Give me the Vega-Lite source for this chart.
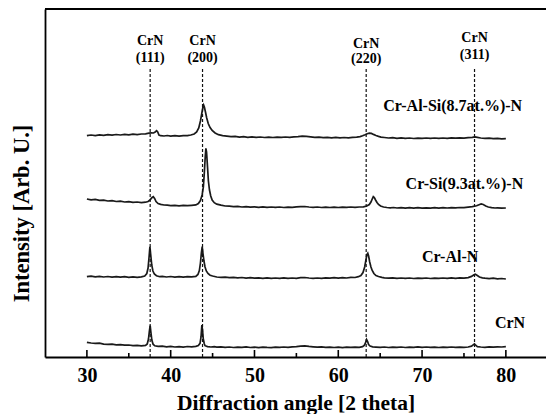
{
  "$schema": "https://vega.github.io/schema/vega-lite/v6.json",
  "width": 501,
  "height": 348,
  "autosize": {"type": "none"},
  "padding": {"left": 45, "top": 9, "right": 0, "bottom": 57},
  "background": "white",
  "config": {"view": {"stroke": null}},
  "layer": [
    {
      "data": {"values": [
        {"s":"D","x":30,"y":14.7},{"s":"D","x":30.5,"y":14.0},{"s":"D","x":31,"y":13.6},{"s":"D","x":31.5,"y":13.9},{"s":"D","x":32,"y":12.9},{"s":"D","x":32.5,"y":12.6},{"s":"D","x":33,"y":12.9},{"s":"D","x":33.5,"y":12.1},{"s":"D","x":34,"y":12.4},{"s":"D","x":34.5,"y":11.8},{"s":"D","x":35,"y":12.0},{"s":"D","x":35.5,"y":11.4},{"s":"D","x":36,"y":11.6},{"s":"D","x":36.5,"y":11.1},{"s":"D","x":37,"y":11.6},{"s":"D","x":37.2,"y":13},{"s":"D","x":37.35,"y":18},{"s":"D","x":37.45,"y":25.3},{"s":"D","x":37.55,"y":31.3},{"s":"D","x":37.65,"y":24},{"s":"D","x":37.75,"y":17},{"s":"D","x":37.9,"y":12.8},{"s":"D","x":38.1,"y":11.2},{"s":"D","x":38.5,"y":10.6},{"s":"D","x":39,"y":10.9},{"s":"D","x":39.5,"y":10.2},{"s":"D","x":40,"y":10.6},{"s":"D","x":40.5,"y":10.0},{"s":"D","x":41,"y":10.4},{"s":"D","x":41.5,"y":9.9},{"s":"D","x":42,"y":10.5},{"s":"D","x":42.5,"y":10.1},{"s":"D","x":43,"y":10.6},{"s":"D","x":43.3,"y":11.5},{"s":"D","x":43.5,"y":13.7},{"s":"D","x":43.62,"y":20},{"s":"D","x":43.72,"y":32},{"s":"D","x":43.8,"y":27},{"s":"D","x":43.88,"y":18.7},{"s":"D","x":44.0,"y":13.5},{"s":"D","x":44.1,"y":11.3},{"s":"D","x":44.4,"y":10.4},{"s":"D","x":44.8,"y":10.0},{"s":"D","x":45.2,"y":10.3},{"s":"D","x":45.5,"y":9.8},{"s":"D","x":46,"y":10.1},{"s":"D","x":46.5,"y":9.6},{"s":"D","x":47,"y":10.0},{"s":"D","x":47.5,"y":9.5},{"s":"D","x":48,"y":9.9},{"s":"D","x":48.5,"y":9.6},{"s":"D","x":49,"y":10.1},{"s":"D","x":49.5,"y":9.5},{"s":"D","x":50,"y":9.8},{"s":"D","x":50.5,"y":9.4},{"s":"D","x":51,"y":9.9},{"s":"D","x":51.5,"y":9.6},{"s":"D","x":52,"y":9.4},{"s":"D","x":52.5,"y":9.9},{"s":"D","x":53,"y":9.6},{"s":"D","x":53.5,"y":10.0},{"s":"D","x":54,"y":9.7},{"s":"D","x":54.5,"y":10.2},{"s":"D","x":55,"y":10.4},{"s":"D","x":55.5,"y":10.9},{"s":"D","x":56,"y":11.1},{"s":"D","x":56.5,"y":10.6},{"s":"D","x":57,"y":10.2},{"s":"D","x":57.5,"y":9.8},{"s":"D","x":58,"y":10.1},{"s":"D","x":58.5,"y":9.6},{"s":"D","x":59,"y":9.9},{"s":"D","x":59.5,"y":9.5},{"s":"D","x":60,"y":9.8},{"s":"D","x":60.5,"y":9.4},{"s":"D","x":61,"y":9.9},{"s":"D","x":61.5,"y":9.6},{"s":"D","x":62,"y":9.8},{"s":"D","x":62.5,"y":9.6},{"s":"D","x":62.9,"y":10.3},{"s":"D","x":63.1,"y":11.5},{"s":"D","x":63.25,"y":14},{"s":"D","x":63.38,"y":17.5},{"s":"D","x":63.5,"y":15.5},{"s":"D","x":63.62,"y":12.5},{"s":"D","x":63.8,"y":11},{"s":"D","x":64.1,"y":10.2},{"s":"D","x":64.5,"y":9.9},{"s":"D","x":65,"y":9.6},{"s":"D","x":65.5,"y":10.0},{"s":"D","x":66,"y":9.5},{"s":"D","x":66.5,"y":9.9},{"s":"D","x":67,"y":9.6},{"s":"D","x":67.5,"y":10.0},{"s":"D","x":68,"y":9.5},{"s":"D","x":68.5,"y":9.9},{"s":"D","x":69,"y":9.6},{"s":"D","x":69.5,"y":10.1},{"s":"D","x":70,"y":9.6},{"s":"D","x":70.5,"y":10.0},{"s":"D","x":71,"y":9.6},{"s":"D","x":71.5,"y":9.9},{"s":"D","x":72,"y":9.5},{"s":"D","x":72.5,"y":9.9},{"s":"D","x":73,"y":9.6},{"s":"D","x":73.5,"y":10.0},{"s":"D","x":74,"y":9.6},{"s":"D","x":74.5,"y":9.9},{"s":"D","x":75,"y":9.7},{"s":"D","x":75.5,"y":10.0},{"s":"D","x":75.9,"y":10.8},{"s":"D","x":76.1,"y":12.2},{"s":"D","x":76.25,"y":13.2},{"s":"D","x":76.4,"y":11.8},{"s":"D","x":76.6,"y":10.4},{"s":"D","x":77,"y":10.0},{"s":"D","x":77.5,"y":9.7},{"s":"D","x":78,"y":10.1},{"s":"D","x":78.5,"y":9.8},{"s":"D","x":79,"y":10.2},{"s":"D","x":79.5,"y":10.0},{"s":"D","x":80,"y":10.3},
        {"s":"C","x":30,"y":80.3},{"s":"C","x":30.5,"y":80.9},{"s":"C","x":31,"y":80.2},{"s":"C","x":31.5,"y":80.7},{"s":"C","x":32,"y":80.0},{"s":"C","x":32.5,"y":80.5},{"s":"C","x":33,"y":79.9},{"s":"C","x":33.5,"y":80.4},{"s":"C","x":34,"y":79.8},{"s":"C","x":34.5,"y":80.3},{"s":"C","x":35,"y":79.7},{"s":"C","x":35.5,"y":80.2},{"s":"C","x":36,"y":79.6},{"s":"C","x":36.5,"y":80.1},{"s":"C","x":36.9,"y":81.0},{"s":"C","x":37.15,"y":83.5},{"s":"C","x":37.3,"y":89},{"s":"C","x":37.42,"y":100},{"s":"C","x":37.52,"y":110.3},{"s":"C","x":37.62,"y":102},{"s":"C","x":37.74,"y":92},{"s":"C","x":37.88,"y":86},{"s":"C","x":38.05,"y":83},{"s":"C","x":38.3,"y":81.3},{"s":"C","x":38.7,"y":80.3},{"s":"C","x":39,"y":80.6},{"s":"C","x":39.5,"y":80.0},{"s":"C","x":40,"y":80.5},{"s":"C","x":40.5,"y":79.9},{"s":"C","x":41,"y":80.4},{"s":"C","x":41.5,"y":79.8},{"s":"C","x":42,"y":80.3},{"s":"C","x":42.5,"y":80.1},{"s":"C","x":43,"y":80.6},{"s":"C","x":43.25,"y":82.5},{"s":"C","x":43.42,"y":86.5},{"s":"C","x":43.55,"y":94},{"s":"C","x":43.66,"y":104},{"s":"C","x":43.76,"y":110.3},{"s":"C","x":43.86,"y":103},{"s":"C","x":43.97,"y":96},{"s":"C","x":44.1,"y":90},{"s":"C","x":44.25,"y":86},{"s":"C","x":44.45,"y":83.5},{"s":"C","x":44.7,"y":81.8},{"s":"C","x":45,"y":81.0},{"s":"C","x":45.5,"y":80.0},{"s":"C","x":46,"y":79.6},{"s":"C","x":46.5,"y":79.9},{"s":"C","x":47,"y":79.3},{"s":"C","x":47.5,"y":79.7},{"s":"C","x":48,"y":79.1},{"s":"C","x":48.5,"y":79.5},{"s":"C","x":49,"y":78.9},{"s":"C","x":49.5,"y":79.3},{"s":"C","x":50,"y":78.8},{"s":"C","x":50.5,"y":79.2},{"s":"C","x":51,"y":78.7},{"s":"C","x":51.5,"y":79.1},{"s":"C","x":52,"y":78.6},{"s":"C","x":52.5,"y":79.0},{"s":"C","x":53,"y":78.7},{"s":"C","x":53.5,"y":79.1},{"s":"C","x":54,"y":78.6},{"s":"C","x":54.5,"y":79.0},{"s":"C","x":55,"y":78.7},{"s":"C","x":55.5,"y":79.3},{"s":"C","x":56,"y":79.5},{"s":"C","x":56.5,"y":79.0},{"s":"C","x":57,"y":78.6},{"s":"C","x":57.5,"y":79.0},{"s":"C","x":58,"y":78.7},{"s":"C","x":58.5,"y":79.1},{"s":"C","x":59,"y":78.8},{"s":"C","x":59.5,"y":79.3},{"s":"C","x":60,"y":78.9},{"s":"C","x":60.5,"y":79.4},{"s":"C","x":61,"y":79.0},{"s":"C","x":61.5,"y":79.6},{"s":"C","x":62,"y":79.5},{"s":"C","x":62.4,"y":80.3},{"s":"C","x":62.7,"y":81.5},{"s":"C","x":62.95,"y":84.5},{"s":"C","x":63.15,"y":90},{"s":"C","x":63.3,"y":97},{"s":"C","x":63.42,"y":102.5},{"s":"C","x":63.52,"y":103.8},{"s":"C","x":63.62,"y":101},{"s":"C","x":63.75,"y":95},{"s":"C","x":63.9,"y":90},{"s":"C","x":64.05,"y":86.5},{"s":"C","x":64.25,"y":83.5},{"s":"C","x":64.5,"y":81.5},{"s":"C","x":64.8,"y":80.5},{"s":"C","x":65.2,"y":79.7},{"s":"C","x":65.5,"y":79.2},{"s":"C","x":66,"y":78.8},{"s":"C","x":66.5,"y":79.2},{"s":"C","x":67,"y":78.6},{"s":"C","x":67.5,"y":79.0},{"s":"C","x":68,"y":78.6},{"s":"C","x":68.5,"y":79.0},{"s":"C","x":69,"y":78.5},{"s":"C","x":69.5,"y":78.9},{"s":"C","x":70,"y":78.6},{"s":"C","x":70.5,"y":79.0},{"s":"C","x":71,"y":78.5},{"s":"C","x":71.5,"y":78.9},{"s":"C","x":72,"y":78.6},{"s":"C","x":72.5,"y":79.0},{"s":"C","x":73,"y":78.7},{"s":"C","x":73.5,"y":79.1},{"s":"C","x":74,"y":78.7},{"s":"C","x":74.5,"y":79.2},{"s":"C","x":75,"y":78.9},{"s":"C","x":75.5,"y":79.4},{"s":"C","x":75.9,"y":80.6},{"s":"C","x":76.15,"y":82.0},{"s":"C","x":76.35,"y":82.8},{"s":"C","x":76.55,"y":81.8},{"s":"C","x":76.85,"y":80.0},{"s":"C","x":77.2,"y":79.2},{"s":"C","x":77.5,"y":78.8},{"s":"C","x":78,"y":78.4},{"s":"C","x":78.5,"y":78.8},{"s":"C","x":79,"y":78.2},{"s":"C","x":79.5,"y":78.5},{"s":"C","x":80,"y":78.0},
        {"s":"B","x":30,"y":158.0},{"s":"B","x":30.5,"y":157.2},{"s":"B","x":31,"y":157.6},{"s":"B","x":31.5,"y":156.6},{"s":"B","x":32,"y":156.9},{"s":"B","x":32.5,"y":156.0},{"s":"B","x":33,"y":156.3},{"s":"B","x":33.5,"y":155.5},{"s":"B","x":34,"y":155.8},{"s":"B","x":34.5,"y":155.0},{"s":"B","x":35,"y":155.3},{"s":"B","x":35.5,"y":154.6},{"s":"B","x":36,"y":155.0},{"s":"B","x":36.5,"y":154.4},{"s":"B","x":37,"y":154.8},{"s":"B","x":37.3,"y":155.5},{"s":"B","x":37.55,"y":157.2},{"s":"B","x":37.75,"y":159.3},{"s":"B","x":37.92,"y":160.3},{"s":"B","x":38.08,"y":158.5},{"s":"B","x":38.25,"y":155.5},{"s":"B","x":38.5,"y":153.5},{"s":"B","x":38.8,"y":152.6},{"s":"B","x":39.2,"y":152.0},{"s":"B","x":39.6,"y":151.8},{"s":"B","x":40,"y":151.4},{"s":"B","x":40.5,"y":151.6},{"s":"B","x":41,"y":151.2},{"s":"B","x":41.5,"y":151.6},{"s":"B","x":42,"y":151.3},{"s":"B","x":42.5,"y":151.7},{"s":"B","x":43,"y":152.1},{"s":"B","x":43.3,"y":153.5},{"s":"B","x":43.55,"y":156.5},{"s":"B","x":43.75,"y":162},{"s":"B","x":43.9,"y":170},{"s":"B","x":44.02,"y":185},{"s":"B","x":44.12,"y":200},{"s":"B","x":44.2,"y":208.7},{"s":"B","x":44.28,"y":205},{"s":"B","x":44.38,"y":192},{"s":"B","x":44.5,"y":176},{"s":"B","x":44.63,"y":167},{"s":"B","x":44.78,"y":161},{"s":"B","x":44.95,"y":157},{"s":"B","x":45.2,"y":154.3},{"s":"B","x":45.5,"y":152.8},{"s":"B","x":46,"y":151.8},{"s":"B","x":46.5,"y":151.0},{"s":"B","x":47,"y":150.8},{"s":"B","x":47.5,"y":150.4},{"s":"B","x":48,"y":150.6},{"s":"B","x":48.5,"y":150.0},{"s":"B","x":49,"y":150.4},{"s":"B","x":49.5,"y":149.8},{"s":"B","x":50,"y":150.2},{"s":"B","x":50.5,"y":149.7},{"s":"B","x":51,"y":150.1},{"s":"B","x":51.5,"y":149.6},{"s":"B","x":52,"y":150.0},{"s":"B","x":52.5,"y":149.6},{"s":"B","x":53,"y":150.0},{"s":"B","x":53.5,"y":149.5},{"s":"B","x":54,"y":149.9},{"s":"B","x":54.5,"y":149.6},{"s":"B","x":55,"y":150.1},{"s":"B","x":55.5,"y":150.3},{"s":"B","x":56,"y":150.5},{"s":"B","x":56.5,"y":150.0},{"s":"B","x":57,"y":149.7},{"s":"B","x":57.5,"y":150.0},{"s":"B","x":58,"y":149.5},{"s":"B","x":58.5,"y":149.9},{"s":"B","x":59,"y":149.5},{"s":"B","x":59.5,"y":149.9},{"s":"B","x":60,"y":149.5},{"s":"B","x":60.5,"y":149.9},{"s":"B","x":61,"y":149.6},{"s":"B","x":61.5,"y":150.0},{"s":"B","x":62,"y":149.7},{"s":"B","x":62.5,"y":150.0},{"s":"B","x":63,"y":150.2},{"s":"B","x":63.4,"y":151.0},{"s":"B","x":63.7,"y":152.5},{"s":"B","x":63.9,"y":155},{"s":"B","x":64.05,"y":158},{"s":"B","x":64.18,"y":160.3},{"s":"B","x":64.3,"y":159.5},{"s":"B","x":64.45,"y":157},{"s":"B","x":64.62,"y":154.5},{"s":"B","x":64.8,"y":152.5},{"s":"B","x":65.05,"y":151.0},{"s":"B","x":65.4,"y":150.0},{"s":"B","x":65.8,"y":149.5},{"s":"B","x":66.2,"y":149.2},{"s":"B","x":66.6,"y":149.5},{"s":"B","x":67,"y":149.0},{"s":"B","x":67.5,"y":149.4},{"s":"B","x":68,"y":148.9},{"s":"B","x":68.5,"y":149.3},{"s":"B","x":69,"y":148.9},{"s":"B","x":69.5,"y":149.3},{"s":"B","x":70,"y":148.8},{"s":"B","x":70.5,"y":149.2},{"s":"B","x":71,"y":148.9},{"s":"B","x":71.5,"y":149.3},{"s":"B","x":72,"y":148.9},{"s":"B","x":72.5,"y":149.3},{"s":"B","x":73,"y":149.0},{"s":"B","x":73.5,"y":149.4},{"s":"B","x":74,"y":149.1},{"s":"B","x":74.5,"y":149.5},{"s":"B","x":75,"y":149.3},{"s":"B","x":75.5,"y":149.8},{"s":"B","x":76,"y":150.3},{"s":"B","x":76.5,"y":151.2},{"s":"B","x":76.8,"y":152.3},{"s":"B","x":77.05,"y":153.0},{"s":"B","x":77.3,"y":152.5},{"s":"B","x":77.6,"y":151.0},{"s":"B","x":77.9,"y":150.0},{"s":"B","x":78.3,"y":149.3},{"s":"B","x":78.7,"y":149.0},{"s":"B","x":79,"y":149.2},{"s":"B","x":79.5,"y":148.8},{"s":"B","x":80,"y":149.0},
        {"s":"A","x":30,"y":221.3},{"s":"A","x":30.5,"y":222.0},{"s":"A","x":31,"y":221.4},{"s":"A","x":31.5,"y":222.2},{"s":"A","x":32,"y":221.6},{"s":"A","x":32.5,"y":222.3},{"s":"A","x":33,"y":221.8},{"s":"A","x":33.5,"y":222.5},{"s":"A","x":34,"y":222.0},{"s":"A","x":34.5,"y":222.6},{"s":"A","x":35,"y":222.1},{"s":"A","x":35.5,"y":222.8},{"s":"A","x":36,"y":222.4},{"s":"A","x":36.5,"y":223.0},{"s":"A","x":37,"y":223.2},{"s":"A","x":37.4,"y":223.8},{"s":"A","x":37.7,"y":224.2},{"s":"A","x":37.95,"y":224.0},{"s":"A","x":38.15,"y":225.0},{"s":"A","x":38.32,"y":226.3},{"s":"A","x":38.45,"y":225.0},{"s":"A","x":38.6,"y":222.0},{"s":"A","x":38.8,"y":221.3},{"s":"A","x":39.2,"y":221.0},{"s":"A","x":39.6,"y":221.5},{"s":"A","x":40,"y":220.9},{"s":"A","x":40.5,"y":221.3},{"s":"A","x":41,"y":220.9},{"s":"A","x":41.5,"y":221.4},{"s":"A","x":42,"y":221.3},{"s":"A","x":42.4,"y":222.0},{"s":"A","x":42.8,"y":223.0},{"s":"A","x":43.1,"y":225.0},{"s":"A","x":43.35,"y":229},{"s":"A","x":43.55,"y":236},{"s":"A","x":43.72,"y":244},{"s":"A","x":43.85,"y":250},{"s":"A","x":43.93,"y":252},{"s":"A","x":44.02,"y":250},{"s":"A","x":44.15,"y":245},{"s":"A","x":44.3,"y":239},{"s":"A","x":44.48,"y":233.5},{"s":"A","x":44.7,"y":229.5},{"s":"A","x":44.95,"y":226.5},{"s":"A","x":45.3,"y":224.0},{"s":"A","x":45.7,"y":222.3},{"s":"A","x":46.2,"y":221.3},{"s":"A","x":46.7,"y":220.8},{"s":"A","x":47.2,"y":220.3},{"s":"A","x":47.7,"y":220.6},{"s":"A","x":48.2,"y":219.9},{"s":"A","x":48.7,"y":220.3},{"s":"A","x":49.2,"y":219.7},{"s":"A","x":49.7,"y":220.1},{"s":"A","x":50.2,"y":219.6},{"s":"A","x":50.7,"y":220.0},{"s":"A","x":51.2,"y":219.5},{"s":"A","x":51.7,"y":219.9},{"s":"A","x":52.2,"y":219.5},{"s":"A","x":52.7,"y":219.9},{"s":"A","x":53.2,"y":219.6},{"s":"A","x":53.7,"y":220.0},{"s":"A","x":54.2,"y":219.7},{"s":"A","x":54.7,"y":220.2},{"s":"A","x":55.2,"y":220.4},{"s":"A","x":55.7,"y":220.9},{"s":"A","x":56.2,"y":220.7},{"s":"A","x":56.7,"y":220.2},{"s":"A","x":57.2,"y":219.6},{"s":"A","x":57.7,"y":219.9},{"s":"A","x":58.2,"y":219.3},{"s":"A","x":58.7,"y":219.7},{"s":"A","x":59.2,"y":219.2},{"s":"A","x":59.7,"y":219.6},{"s":"A","x":60.2,"y":219.1},{"s":"A","x":60.7,"y":219.5},{"s":"A","x":61.2,"y":219.2},{"s":"A","x":61.7,"y":219.7},{"s":"A","x":62.2,"y":219.8},{"s":"A","x":62.6,"y":220.4},{"s":"A","x":62.9,"y":221.2},{"s":"A","x":63.2,"y":222.3},{"s":"A","x":63.45,"y":223.3},{"s":"A","x":63.7,"y":223.9},{"s":"A","x":63.95,"y":223.6},{"s":"A","x":64.2,"y":222.6},{"s":"A","x":64.5,"y":221.5},{"s":"A","x":64.8,"y":220.6},{"s":"A","x":65.1,"y":219.9},{"s":"A","x":65.5,"y":219.5},{"s":"A","x":66,"y":219.0},{"s":"A","x":66.5,"y":219.3},{"s":"A","x":67,"y":218.7},{"s":"A","x":67.5,"y":219.1},{"s":"A","x":68,"y":218.6},{"s":"A","x":68.5,"y":219.0},{"s":"A","x":69,"y":218.5},{"s":"A","x":69.5,"y":218.9},{"s":"A","x":70,"y":218.6},{"s":"A","x":70.5,"y":219.0},{"s":"A","x":71,"y":218.6},{"s":"A","x":71.5,"y":219.0},{"s":"A","x":72,"y":218.6},{"s":"A","x":72.5,"y":219.0},{"s":"A","x":73,"y":218.7},{"s":"A","x":73.5,"y":219.1},{"s":"A","x":74,"y":218.8},{"s":"A","x":74.5,"y":219.2},{"s":"A","x":75,"y":218.9},{"s":"A","x":75.5,"y":219.3},{"s":"A","x":76,"y":219.6},{"s":"A","x":76.3,"y":220.2},{"s":"A","x":76.6,"y":219.7},{"s":"A","x":77,"y":219.0},{"s":"A","x":77.5,"y":218.6},{"s":"A","x":78,"y":218.9},{"s":"A","x":78.5,"y":218.4},{"s":"A","x":79,"y":218.7},{"s":"A","x":79.5,"y":218.2},{"s":"A","x":80,"y":218.3}
      ]},
      "mark": {"type": "line", "color": "#1a1a1a", "strokeWidth": 1.7, "interpolate": "linear"},
      "encoding": {
        "x": {
          "field": "x", "type": "quantitative",
          "scale": {"domain": [25, 84.79], "nice": false, "zero": false},
          "axis": {
            "values": [30, 40, 50, 60, 70, 80], "ticks": false, "grid": false,
            "domain": true, "domainColor": "black", "domainWidth": 1.8,
            "labelFont": "Liberation Serif", "labelFontWeight": "bold", "labelFontSize": 20, "labelColor": "black",
            "labelPadding": 8, "labelFlush": false,
            "title": "Diffraction angle [2 theta]", "titleFont": "Liberation Serif", "titleFontWeight": "bold",
            "titleFontSize": 21.5, "titleColor": "black", "titleY": 52, "titleBaseline": "alphabetic"
          }
        },
        "y": {
          "field": "y", "type": "quantitative",
          "scale": {"domain": [0, 348], "nice": false, "zero": false},
          "axis": {
            "labels": false, "ticks": false, "grid": false,
            "domain": true, "domainColor": "black", "domainWidth": 1.8,
            "title": "Intensity [Arb. U.]", "titleFont": "Liberation Serif", "titleFontWeight": "bold",
            "titleFontSize": 22.5, "titleColor": "black", "titleX": -24, "titleY": 204,
            "titleAngle": 270, "titleAlign": "center", "titleBaseline": "middle"
          }
        },
        "detail": {"field": "s", "type": "nominal"},
        "order": {"field": "x", "type": "quantitative"}
      }
    },
    {
      "data": {"values": [{"x": 25, "x2": 84.79, "y": 348}]},
      "mark": {"type": "rule", "color": "black", "strokeWidth": 1.8},
      "encoding": {
        "x": {"field": "x", "type": "quantitative"},
        "x2": {"field": "x2"},
        "y": {"field": "y", "type": "quantitative"}
      }
    },
    {
      "data": {"values": [
        {"x": 37.55, "lo": 0, "hi": 289}, {"x": 43.8, "lo": 0, "hi": 289},
        {"x": 63.33, "lo": 0, "hi": 289}, {"x": 76.26, "lo": 0, "hi": 289}
      ]},
      "mark": {"type": "rule", "color": "#111111", "strokeWidth": 1.2, "strokeDash": [3, 2]},
      "encoding": {
        "x": {"field": "x", "type": "quantitative"},
        "y": {"field": "lo", "type": "quantitative"},
        "y2": {"field": "hi"}
      }
    },
    {
      "data": {"values": [
        {"x": 30, "lo": 0, "hi": 7}, {"x": 35, "lo": 0, "hi": 4}, {"x": 40, "lo": 0, "hi": 7}, {"x": 45, "lo": 0, "hi": 4},
        {"x": 50, "lo": 0, "hi": 7}, {"x": 55, "lo": 0, "hi": 4}, {"x": 60, "lo": 0, "hi": 7}, {"x": 65, "lo": 0, "hi": 4},
        {"x": 70, "lo": 0, "hi": 7}, {"x": 75, "lo": 0, "hi": 4}, {"x": 80, "lo": 0, "hi": 7}
      ]},
      "mark": {"type": "rule", "color": "black", "strokeWidth": 1.6},
      "encoding": {
        "x": {"field": "x", "type": "quantitative"},
        "y": {"field": "lo", "type": "quantitative"},
        "y2": {"field": "hi"}
      }
    },
    {
      "data": {"values": [
        {"x": 73.65, "y": 251, "t": "Cr-Al-Si(8.7at.%)-N"},
        {"x": 75.05, "y": 172.7, "t": "Cr-Si(9.3at.%)-N"},
        {"x": 73.35, "y": 100.3, "t": "Cr-Al-N"},
        {"x": 80.5, "y": 33.7, "t": "CrN"}
      ]},
      "mark": {"type": "text", "font": "Liberation Serif", "fontWeight": "bold", "fontSize": 16, "color": "black", "align": "center", "baseline": "middle"},
      "encoding": {
        "x": {"field": "x", "type": "quantitative"},
        "y": {"field": "y", "type": "quantitative"},
        "text": {"field": "t", "type": "nominal"}
      }
    },
    {
      "data": {"values": [
        {"x": 37.55, "y": 316, "t": "CrN"}, {"x": 37.55, "y": 299, "t": "(111)"},
        {"x": 43.8, "y": 316, "t": "CrN"}, {"x": 43.8, "y": 299, "t": "(200)"},
        {"x": 63.33, "y": 313, "t": "CrN"}, {"x": 63.33, "y": 298, "t": "(220)"},
        {"x": 76.26, "y": 319, "t": "CrN"}, {"x": 76.26, "y": 302, "t": "(311)"}
      ]},
      "mark": {"type": "text", "font": "Liberation Serif", "fontWeight": "bold", "fontSize": 14, "color": "black", "align": "center", "baseline": "middle"},
      "encoding": {
        "x": {"field": "x", "type": "quantitative"},
        "y": {"field": "y", "type": "quantitative"},
        "text": {"field": "t", "type": "nominal"}
      }
    }
  ]
}
